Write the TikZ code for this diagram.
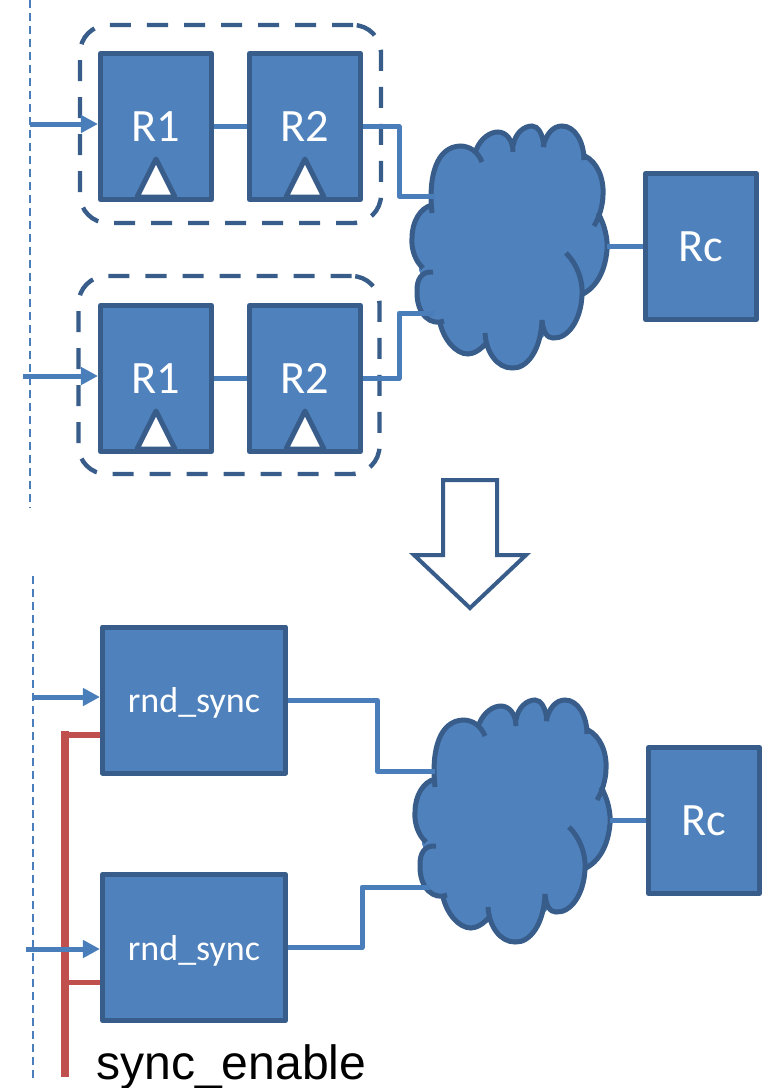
\documentclass[tikz,border=0pt]{standalone}
\usepackage{fontspec}
\setmainfont{Carlito}
\newfontfamily\labelfont{Liberation Sans}
\usetikzlibrary{arrows.meta, positioning}
\definecolor{boxfill}{HTML}{4F81BD}
\definecolor{boxline}{HTML}{385D8A}
\definecolor{wireblue}{HTML}{4A7EBB}
\definecolor{enablered}{HTML}{C0504D}

\tikzset{
cloudshape/.pic={
\fill[boxfill] (428,210) -- (476,149) -- (513,143) -- (543,143) -- (586,155) -- (601,215) -- (584,297) -- (542,338) -- (486,345) -- (440,325) -- (419,270) -- cycle;
\path[draw=boxline, fill=boxfill, line width=1.25mm]
(432,213) .. controls (428,175) and (437,147) .. (460,146) .. controls (470,146) and (478,152) .. (482,162)
(476,150) .. controls (481,138) and (490,132) .. (498,132) .. controls (506,132) and (513,140) .. (513,152)
(513,146) .. controls (515,133) and (524,126) .. (532,126) .. controls (538,126) and (543,134) .. (544,147)
(543,147) .. controls (546,134) and (553,126) .. (562,126) .. controls (575,126) and (584,142) .. (584,160)
(585,156) .. controls (597,162) and (604,178) .. (603,195) .. controls (603,205) and (599,218) .. (594,226)
(598,213) .. controls (605,225) and (608,240) .. (607,250) .. controls (605,272) and (596,288) .. (581,295)
(566,253) .. controls (577,264) and (583,280) .. (582,295) .. controls (581,320) and (568,339) .. (553,338) .. controls (547,338) and (543,332) .. (542,320)
(542,320) .. controls (541,350) and (527,369) .. (512,368) .. controls (497,368) and (486,352) .. (485,333)
(487,342) .. controls (481,350) and (473,354) .. (468,354) .. controls (456,354) and (444,340) .. (440,323)
(444,321) .. controls (432,326) and (416,316) .. (417,290) .. controls (417,280) and (421,271) .. (433,272)
(423,268) .. controls (416,262) and (411,250) .. (412,238) .. controls (412,222) and (420,208) .. (432,205);
}
}

\begin{document}
\begin{tikzpicture}[
x=0.25mm, y=-0.25mm,
node distance=25.25mm and 8.25mm,
every node/.style={text=white},
reg/.style={rectangle, draw=boxline, fill=boxfill, line width=1.25mm, line join=round, minimum width=27.75mm, minimum height=36.5mm, font=\fontsize{33}{36}\selectfont},
syncbox/.style={reg, minimum width=45.75mm, text depth=0pt, font=\fontsize{25.6}{30}\selectfont},
group/.style={rectangle, rounded corners=7mm, draw=boxline, line width=1.1mm, dash pattern=on 5.25mm off 4mm, minimum width=75.25mm, minimum height=49.5mm},
clock/.style={draw=boxline, fill=white, line width=1.25mm, line join=round},
wire/.style={draw=wireblue, line width=1.25mm, line join=round},
line/.style={wire, -{Triangle[length=4.25mm, width=4.25mm]}},
edge/.style={draw=wireblue, line width=0.6mm, dash pattern=on 2mm off 1.25mm},
enable/.style={draw=enablered, line width=1.25mm},
bigarrow/.style={draw=boxline, fill=white, line width=1mm, line join=miter}
]
\useasboundingbox (0,0) rectangle (769,1088);

\draw[edge] (30,0) coordinate (edgeAtop) -- (30,508) coordinate (edgeAbot);
\draw[edge] (33,576) coordinate (edgeBtop) -- (33,1080) coordinate (edgeBbot);

\node[reg] (r1a) at (156,126.5) {R1};
\node[reg, right=of r1a] (r2a) {R2};
\node[reg, below=of r1a] (r1b) {R1};
\node[reg, right=of r1b] (r2b) {R2};
\node[reg] (rca) at (701,246.5) {Rc};
\node[group] (groupa) at (230.5,124) {};
\node[group] (groupb) at (229,375) {};

\foreach \reg in {r1a,r2a,r1b,r2b}
\draw[clock] ([shift={(-19,-5)}]\reg.south) -- ([shift={(19,-5)}]\reg.south) -- ([shift={(0,-43)}]\reg.south) -- cycle;

\pic at (0,0) {cloudshape};
\pic at (3,574) {cloudshape};

\coordinate (ina) at (30,124);
\coordinate (inb) at (23,376);
\coordinate (kneea) at (399,196);
\coordinate (kneeb) at (399,313);
\coordinate (cina) at (435,196);
\coordinate (cinb) at (435,313);
\coordinate (couta) at (607,246);

\draw[line] (ina) -- (ina -| r1a.west);
\draw[line] (inb) -- (inb -| r1b.west);
\draw[wire] (r1a) -- (r2a);
\draw[wire] (r1b) -- (r2b);
\draw[wire] (r2a.east) -| (kneea) -- (cina);
\draw[wire] (r2b.east) -| (kneeb) -- (cinb);
\draw[wire] (couta) -- (couta -| rca.west);

\draw[bigarrow] (443,480) -- (497,480) -- (497,555) -- (526,555) -- (470,608) -- (414,555) -- (443,555) -- cycle;

\node[syncbox] (synca) at (194,700) {rnd\_sync};
\node[syncbox] (syncb) at (194,947.5) {rnd\_sync};
\node[reg] (rcb) at (704,820.5) {Rc};
\node[anchor=base west, text=black, font=\labelfont\fontsize{34.2}{36}\selectfont, inner sep=0pt] (enlabel) at (96,1079) {sync\_enable};

\coordinate (enbot) at (65,1073);
\coordinate (entop) at (65,735);
\coordinate (enjoin) at (65,982);
\draw[enable, line width=2mm, line cap=rect] (enbot) -- (entop);
\draw[enable, line width=1.5mm] (entop) -- (entop -| synca.west);
\draw[enable] (enjoin) -- (enjoin -| syncb.west);

\coordinate (inc) at (33,697);
\coordinate (ind) at (26,949);
\coordinate (kneec) at (377,771);
\coordinate (kneed) at (362,887);
\coordinate (cinc) at (435,771);
\coordinate (cind) at (430,887);
\coordinate (coutb) at (610,820);

\draw[line] (inc) -- (inc -| synca.west);
\draw[line] (ind) -- (ind -| syncb.west);
\draw[wire] (synca.east) -| (kneec) -- (cinc);
\draw[wire] (syncb.east) -| (kneed) -- (cind);
\draw[wire] (coutb) -- (coutb -| rcb.west);

\end{tikzpicture}
\end{document}
